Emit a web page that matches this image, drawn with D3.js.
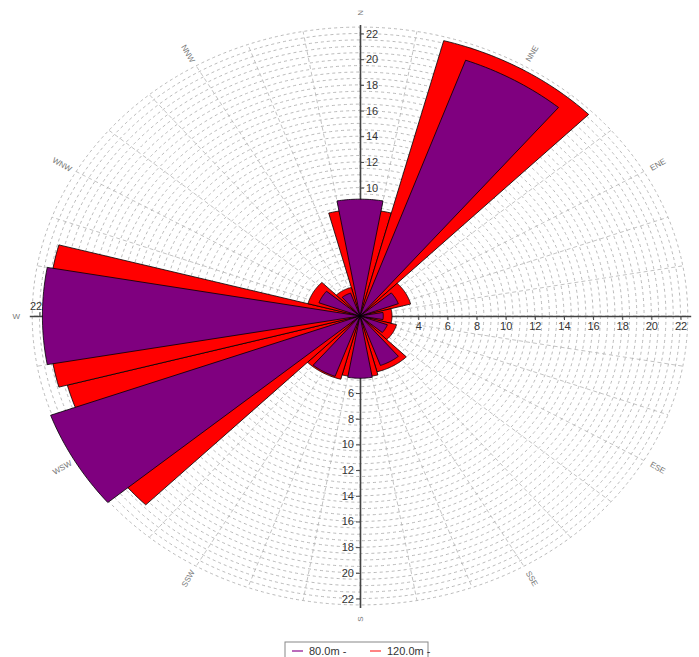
<!DOCTYPE html>
<html>
<head>
<meta charset="utf-8">
<script src="https://cdn.jsdelivr.net/npm/d3@7"></script>
<style>
body { margin: 0; background: #fff; }
svg text { font-family: "Liberation Sans", Arial, sans-serif; }
</style>
</head>
<body>
<div id="chart"></div>
<script>
// wind rose, 12 sectors, two heights
var directions = ["N", "NNE", "ENE", "E", "ESE", "SSE", "S", "SSW", "WSW", "W", "WNW", "NNW"];
var sectorAngles = [0, 30, 60, 90, 120, 150, 180, 210, 240, 270, 300, 330];
var values80 = [9.1, 21.2, 2.8, 1.6, 2.0, 4.1, 4.85, 5.0, 22.6, 21.8, 3.0, 1.9];
var values120 = [8.3, 22.2, 3.6, 2.2, 2.6, 4.5, 4.75, 5.1, 20.8, 21.4, 3.7, 2.3];
var seriesNames = ["80.0m -", "120.0m -"];
var tickValues = [2, 4, 6, 8, 10, 12, 14, 16, 18, 20, 22];
var gridRings = d3.range(0.5, 22.6, 0.5);
var spokeAngles = d3.range(0, 360, 10);

var width = 699, height = 657;
var cx = 360, cy = 316;
var maxV = 22.7;

// chart is stretched, so x and y radii differ
var rx = d3.scaleLinear().domain([0, 22]).range([0, 320.5]);
var ry = d3.scaleLinear().domain([0, 22]).range([0, 282.5]);

var svg = d3.select("#chart").append("svg")
    .attr("width", width)
    .attr("height", height);

function pt(v, deg) {
    var a = deg * Math.PI / 180;
    return [cx + rx(v) * Math.sin(a), cy - ry(v) * Math.cos(a)];
}

function wedge(v, a0, a1) {
    var pts = [[cx, cy]];
    for (var a = a0; a < a1; a += 1) pts.push(pt(v, a));
    pts.push(pt(v, a1));
    return d3.line()(pts) + "Z";
}

// Grid rings
svg.append("g").selectAll("ellipse")
    .data(gridRings)
    .enter()
    .append("ellipse")
    .attr("cx", cx)
    .attr("cy", cy)
    .attr("rx", function(d) { return rx(d); })
    .attr("ry", function(d) { return ry(d); })
    .attr("fill", "none")
    .attr("stroke", "#a8a8a8")
    .attr("stroke-width", 0.8)
    .attr("stroke-dasharray", "3,3")

// Spokes
svg.append("g").selectAll("line")
    .data(spokeAngles)
    .enter()
    .append("line")
    .attr("x1", cx)
    .attr("y1", cy)
    .attr("x2", function(d) { return pt(22.5, d)[0]; })
    .attr("y2", function(d) { return pt(22.5, d)[1]; })
    .attr("stroke", "#b4b4b4")
    .attr("stroke-width", 0.8)
    .attr("stroke-dasharray", "4,3")

// Axes through the centre
var yTop = d3.scaleLinear().domain([0, maxV]).range([cy, cy - ry(maxV)]);
var yBot = d3.scaleLinear().domain([0, maxV]).range([cy, cy + ry(maxV)]);
var xRight = d3.scaleLinear().domain([0, maxV]).range([cx, cx + rx(maxV)]);
var xLeft = d3.scaleLinear().domain([0, maxV]).range([cx, cx - rx(maxV)]);

var axes = [
    { axis: d3.axisRight(yTop), tr: "translate(" + cx + ",0)", dx: 0 },
    { axis: d3.axisLeft(yBot), tr: "translate(" + cx + ",0)", dx: 0 },
    { axis: d3.axisBottom(xRight), tr: "translate(0," + cy + ")", dx: 0 },
    { axis: d3.axisTop(xLeft), tr: "translate(0," + cy + ")", dx: -4 }
];
axes.forEach(function(a) {
    var g = svg.append("g")
        .attr("transform", a.tr)
        .call(a.axis.tickValues(tickValues).tickSize(4).tickSizeOuter(0).tickPadding(2));
    g.select(".domain").attr("stroke", "#444").attr("stroke-width", 1.6);
    g.selectAll(".tick line").attr("stroke", "#444");
    g.selectAll("text").attr("font-size", 11).attr("fill", "#333")
        .attr("dx", a.dx)
        .style("font-family", "'Liberation Sans', Arial, sans-serif");
});

// Bars: 120m full sector behind, 80m narrower on top
svg.append("g").selectAll("path")
    .data(values120)
    .enter()
    .append("path")
    .attr("d", function(d, i) { return wedge(d, sectorAngles[i] - 15, sectorAngles[i] + 15); })
    .attr("fill", "#ff0000")
    .attr("stroke", "#000")
    .attr("stroke-width", 0.8)
    .attr("stroke-linejoin", "round")

svg.append("g").selectAll("path")
    .data(values80)
    .enter()
    .append("path")
    .attr("d", function(d, i) { return wedge(d, sectorAngles[i] - 10, sectorAngles[i] + 10); })
    .attr("fill", "#7f007f")
    .attr("stroke", "#000")
    .attr("stroke-width", 0.8)
    .attr("stroke-linejoin", "round")

// Direction labels, written along the radius (E falls off the page)
var labelData = directions.map(function(d, i) {
    return { name: d, angle: sectorAngles[i], p: pt(23.6, sectorAngles[i]) };
}).filter(function(d) { return d.p[0] < width - 8; });

svg.append("g").selectAll("text")
    .data(labelData)
    .enter()
    .append("text")
    .attr("transform", function(d) {
        var rot = d.angle < 180 ? d.angle - 90 : d.angle - 270;
        return "translate(" + d.p[0] + "," + d.p[1] + ") rotate(" + rot + ")";
    })
    .attr("text-anchor", "middle")
    .attr("dy", "0.35em")
    .attr("font-size", 8)
    .attr("fill", "#777")
    .text(function(d) { return d.name; })

// Legend
var legend = svg.append("g").attr("transform", "translate(285,642)");
legend.append("rect")
    .attr("width", 143)
    .attr("height", 22)
    .attr("fill", "#fff")
    .attr("stroke", "#888")
    .attr("stroke-width", 1)
var legendColors = ["#a43aa4", "#ff5a5a"];
var legendX = [7, 85];
seriesNames.forEach(function(name, i) {
    legend.append("line")
        .attr("x1", legendX[i])
        .attr("x2", legendX[i] + 11)
        .attr("y1", 9)
        .attr("y2", 9)
        .attr("stroke", legendColors[i])
        .attr("stroke-width", 1.5)
    legend.append("text")
        .attr("x", legendX[i] + 17)
        .attr("y", 13)
        .attr("font-size", 11)
        .attr("fill", "#333")
        .text(name)
});
</script>
</body>
</html>
